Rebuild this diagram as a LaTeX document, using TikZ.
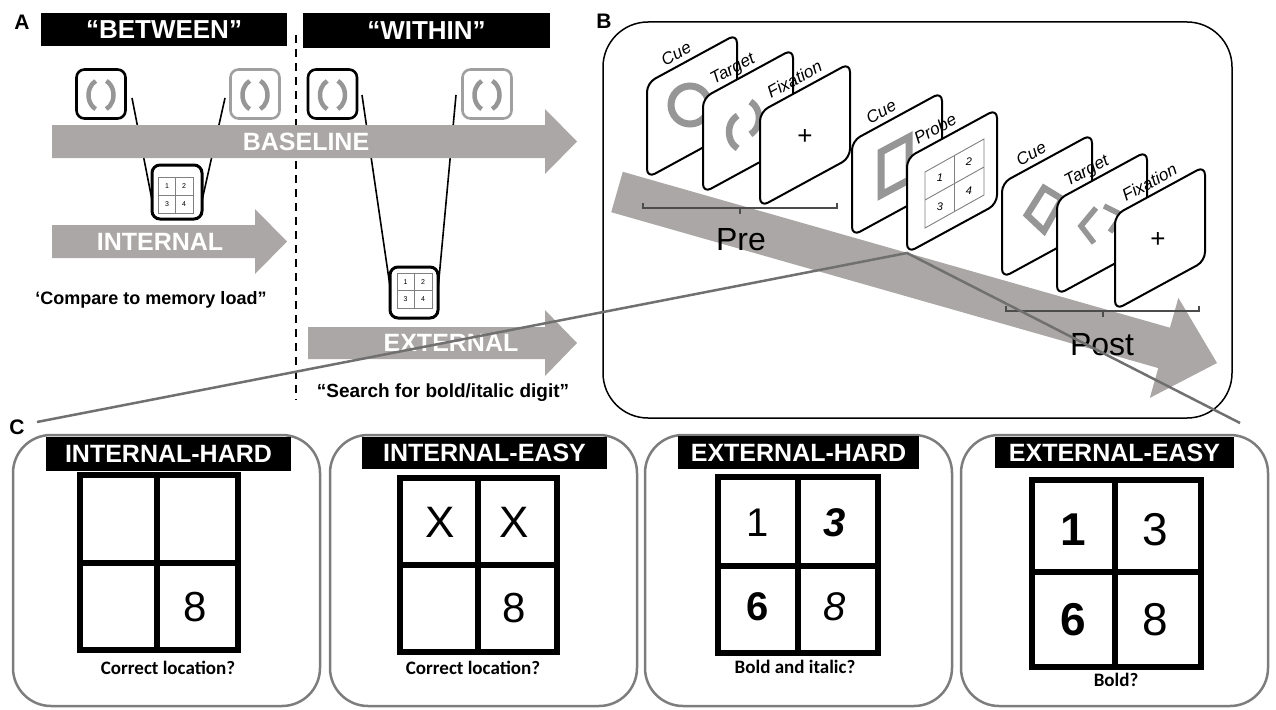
\documentclass[tikz,border=0pt]{standalone}
\usepackage{fontspec}
\setmainfont{Liberation Sans}
\newfontfamily\capfont{Carlito}
\usetikzlibrary{calc}
\definecolor{arrowgray}{RGB}{171,167,166}
\definecolor{cuegray}{RGB}{150,150,150}
\definecolor{zoomgray}{RGB}{112,112,112}
\definecolor{boxgray}{RGB}{125,125,125}
\definecolor{lightcard}{RGB}{160,160,160}
\newcommand\myfs[1]{\fontsize{#1}{#1}\selectfont}
% sheared card of panel B: name, x, y (bottom-left), label, label offset
\newcommand\bcard[5]{%
  \draw[bcardstyle] (#2,#3) -- (#2,#3-95) -- (#2+90,#3-144) -- (#2+90,#3-49) -- cycle;
  \coordinate (#1) at (#2,#3);
  \node[cardlabel] (#1lab) at (#2+#5,#3-95-#5*0.544-7) {#4};
}
\newcommand\parens[5]{%
  \draw[#1] (#2,#3) ++(115:#4 and #5) arc[start angle=115,end angle=245,x radius=#4,y radius=#5];
  \draw[#1] (#2,#3) ++(-65:#4 and #5) arc[start angle=-65,end angle=65,x radius=#4,y radius=#5];}
\begin{document}
\begin{tikzpicture}[x=1pt,y=-1pt,
  titlebar/.style={fill=black, text=white, font=\bfseries\myfs{26}, inner sep=0, minimum height=33},
  panellabel/.style={font=\bfseries\myfs{21}, inner sep=0},
  arrowtext/.style={text=white, font=\bfseries\myfs{25}, inner sep=0},
  qtext/.style={font=\bfseries\myfs{18}, inner sep=0, anchor=base},
  alink/.style={draw=black, line width=1.6},
  pcard/.style={draw=black, line width=2.6, rounded corners=8, minimum width=49, minimum height=49, inner sep=0, fill=white},
  memcard/.style={draw=black, line width=3, rounded corners=8, fill=white, inner sep=0},
  memgrid/.style={draw=gray, line width=0.6},
  memnum/.style={font=\myfs{7}, inner sep=0},
  parenstyle/.style={draw=cuegray, line width=4.5},
  bcardstyle/.style={draw=black, fill=white, line width=2, rounded corners=9},
  cardlabel/.style={font=\itshape\myfs{17}, inner sep=0, anchor=base west, rotate=28.61},
  cueshape/.style={draw=cuegray, line width=6.5},
  abracket/.style={draw=black!70, line width=1.3},
  zoomline/.style={draw=zoomgray, line width=2.5},
  cbox/.style={draw=boxgray, line width=2.5, rounded corners=38, inner sep=0, minimum width=307, minimum height=271},
  cbar/.style={fill=black, text=white, font=\bfseries\myfs{25}, inner sep=0},
  cgrid/.style={draw=black, line width=6},
  capt/.style={font=\capfont\bfseries\myfs{19}, inner sep=0},
  dig/.style={inner sep=0}
]
\useasboundingbox (0,0) rectangle (1276,709);

% ================= Panel A =================
\node[panellabel] (labA) at (22,22) {A};
\node[titlebar, minimum width=246] (tBetween) at (164,29.5) {“BETWEEN”};
\node[titlebar, minimum width=247, minimum height=35] (tWithin) at (426.5,30.5) {“WITHIN”};
\draw[black, line width=2.2, dash pattern=on 8pt off 6pt] (296,35) -- (296,400);

% connector lines (behind arrows)
\coordinate (bl1) at (132,98);  \coordinate (bl2) at (153,205);
\coordinate (br1) at (225,98);  \coordinate (br2) at (201,205);
\coordinate (wl1) at (362,95);  \coordinate (wl2) at (392,300);
\coordinate (wr1) at (456,95);  \coordinate (wr2) at (437,300);
\draw[alink] (bl1) -- (bl2);
\draw[alink] (br1) -- (br2);
\draw[alink] (wl1) -- (wl2);
\draw[alink] (wr1) -- (wr2);

% arrows
\fill[arrowgray] (52,125) -- (545,125) -- (545,109) -- (577,141.5) -- (545,174) -- (545,158) -- (52,158) -- cycle;
\node[arrowtext] (tBase) at (306,141.5) {BASELINE};
\fill[arrowgray] (52,225) -- (255,225) -- (255,209) -- (287,241.5) -- (255,274) -- (255,258) -- (52,258) -- cycle;
\node[arrowtext] (tInt) at (160,241.5) {INTERNAL};
\fill[arrowgray] (308,327) -- (545,327) -- (545,310) -- (577,343) -- (545,376) -- (545,359) -- (308,359) -- cycle;
\node[arrowtext] (tExt) at (451,343) {EXTERNAL};

% stimulus cards
\node[pcard] (bA1) at (101,94) {};
\node[pcard, draw=lightcard] (bA2) at (255,94) {};
\node[pcard] (wA1) at (332.5,94) {};
\node[pcard, draw=lightcard] (wA2) at (487,94) {};
\parens{parenstyle}{101}{95}{12.5}{15.5}
\parens{parenstyle}{255}{95}{12.5}{15.5}
\parens{parenstyle}{332.5}{95}{12.5}{15.5}
\parens{parenstyle}{487}{95}{12.5}{15.5}

% memory cards
\node[memcard, minimum width=50, minimum height=54] (mcB) at (177,192) {};
\draw[memgrid] (158,177) rectangle (193,213) (175.5,177) -- (175.5,213) (158,195) -- (193,195);
\node[memnum] at (167,186) {1}; \node[memnum] at (184,186) {2};
\node[memnum] at (167,204) {3}; \node[memnum] at (184,204) {4};
\node[memcard, minimum width=48, minimum height=51] (mcW) at (414,292.5) {};
\draw[memgrid] (397,273) rectangle (432,308) (414.5,273) -- (414.5,308) (397,290.5) -- (432,290.5);
\node[memnum] at (405.5,282) {1}; \node[memnum] at (423,282) {2};
\node[memnum] at (405.5,299.5) {3}; \node[memnum] at (423,299.5) {4};

\node[qtext] (qInt) at (151,304) {‘Compare to memory load”};
\node[qtext, font=\bfseries\myfs{19}] (qExt) at (443,397) {“Search for bold/italic digit”};

% ================= Panel B =================
\node[panellabel] (labB) at (604,21) {B};
\draw[black, line width=1.5, rounded corners=45] (603,22) rectangle (1232,418);
\fill[arrowgray] (622.8,171.8) -- (1169.9,327.7) -- (1178.4,297.9) -- (1217,363) -- (1149.8,397.9) -- (1158.3,368.1) -- (611.2,212.2) -- cycle;

\bcard{pc1}{647}{178}{Cue}{18}
\draw[cueshape, line width=7] (690,105) circle[radius=19];
\bcard{pc2}{703}{193}{Target}{11}
\draw[cueshape] (744,132) ++(115:15 and 18) arc[start angle=115,end angle=245,x radius=15,y radius=18];
\draw[cueshape] (744,118) ++(-65:15 and 18) arc[start angle=-65,end angle=65,x radius=15,y radius=18];
\bcard{pc3}{760}{207}{Fixation}{11}
\node[font=\myfs{26}, inner sep=0] (plus1) at (805,137) {+};
\bcard{mc1}{852}{236}{Cue}{18}
\draw[cueshape, line width=7] (881,195) -- (881,152) -- (909,137) -- (909,180) -- cycle;
\bcard{mc2}{907}{253}{Probe}{11}
\draw[draw=gray, line width=0.9] (925,172) -- (984,139) -- (984,195) -- (925,228) -- cycle
  (954.5,155.5) -- (954.5,211.5) (925,200) -- (984,167);
\node[font=\itshape\myfs{11}, inner sep=0] at (940,178) {1};
\node[font=\itshape\myfs{11}, inner sep=0] at (969,162) {2};
\node[font=\itshape\myfs{11}, inner sep=0] at (940,207) {3};
\node[font=\itshape\myfs{11}, inner sep=0] at (969,191) {4};
\bcard{qc1}{1002}{278}{Cue}{18}
\draw[cueshape] (1027,215) -- (1044,188) -- (1062,199) -- (1044,231) -- cycle;
\bcard{qc2}{1057}{295}{Target}{11}
\draw[cueshape, line width=5.5] (1096,208) -- (1081,226) -- (1094,243);
\draw[cueshape, line width=5.5] (1104,206) -- (1122,215) -- (1110,232);
\bcard{qc3}{1115}{310}{Fixation}{11}
\node[font=\myfs{26}, inner sep=0] (plus2) at (1158,240) {+};

\draw[abracket] (643,203) -- (643,208) -- (837,208) -- (837,203) (740,208) -- (740,214);
\draw[abracket] (1006,306) -- (1006,311) -- (1199,311) -- (1199,306) (1103,311) -- (1103,317);
\node[font=\myfs{32}, inner sep=0] (tPre) at (741,240) {Pre};
\node[font=\myfs{32}, inner sep=0] (tPost) at (1102,345) {Post};

% zoom lines
\coordinate (cstart) at (37,422);
\coordinate (zend) at (1240,423);
\draw[zoomline] (cstart) -- (mc2) -- (zend);

% ================= Panel C =================
\node[panellabel] (labC) at (17,427) {C};
\node[cbox] (box1) at (166.5,570.5) {};
\node[cbox] (box2) at (483.5,570.5) {};
\node[cbox] (box3) at (798.5,570.5) {};
\node[cbox] (box4) at (1114.5,570.5) {};

\node[cbar, minimum width=245, minimum height=34] (bar1) at (168.5,454) {INTERNAL-HARD};
\node[cbar, minimum width=245, minimum height=32] (bar2) at (484.5,453) {INTERNAL-EASY};
\node[cbar, minimum width=241, minimum height=33] (bar3) at (798.5,452.5) {EXTERNAL-HARD};
\node[cbar, minimum width=239, minimum height=31] (bar4) at (1114.5,452.5) {EXTERNAL-EASY};

\draw[cgrid] (80,475) rectangle (238,650) (157,475) -- (157,650) (80,563) -- (238,563);
\draw[cgrid] (400,478) rectangle (557,652) (478,478) -- (478,652) (400,565) -- (557,565);
\draw[cgrid] (718,477) rectangle (878,653) (798,477) -- (798,653) (718,566) -- (878,566);
\draw[cgrid] (1032,480) rectangle (1201,667) (1115,480) -- (1115,667) (1032,572) -- (1201,572);

\node[dig, font=\myfs{42}] at (195,607) {8};
\node[dig, font=\myfs{44}] at (440,522) {X};
\node[dig, font=\myfs{44}] at (514,522) {X};
\node[dig, font=\myfs{42}] at (514,608) {8};
\node[dig, font=\myfs{40}] at (758,523) {1};
\node[dig, font=\bfseries\itshape\myfs{40}] at (835,523) {3};
\node[dig, font=\bfseries\myfs{40}] at (758,607) {6};
\node[dig, font=\itshape\myfs{40}] at (835,607) {8};
\node[dig, font=\bfseries\myfs{46}] at (1073,530) {1};
\node[dig, font=\myfs{46}] at (1155,530) {3};
\node[dig, font=\bfseries\myfs{46}] at (1073,620) {6};
\node[dig, font=\myfs{46}] at (1155,620) {8};

\node[capt] (cap1) at (168,668) {Correct location?};
\node[capt] (cap2) at (473,668) {Correct location?};
\node[capt] (cap3) at (795,667) {Bold and italic?};
\node[capt] (cap4) at (1116,680) {Bold?};
\end{tikzpicture}
\end{document}
